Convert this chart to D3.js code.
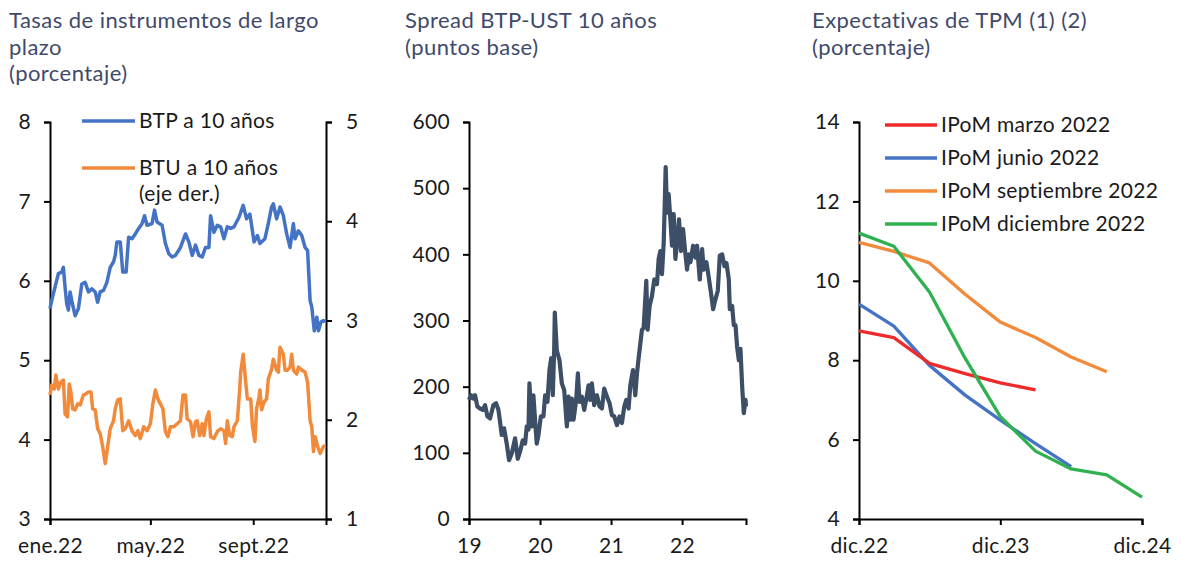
<!DOCTYPE html>
<html><head><meta charset="utf-8">
<script src="https://cdn.jsdelivr.net/npm/d3@7"></script>
<style>
html,body{margin:0;padding:0;background:#fff;}
svg{display:block;font-family:Lato,"Open Sans",sans-serif;}
</style></head>
<body><svg id="c" width="1181" height="561"></svg>
<script>
// ---------- Panel 1: Tasas de instrumentos de largo plazo ----------
const btpDates = ["2022-01-01","2022-01-03","2022-01-07","2022-01-11","2022-01-15","2022-01-17","2022-01-19","2022-01-21","2022-01-23","2022-01-25","2022-01-27","2022-01-31","2022-02-04","2022-02-08","2022-02-12","2022-02-16","2022-02-20","2022-02-24","2022-02-27","2022-03-02","2022-03-06","2022-03-10","2022-03-14","2022-03-18","2022-03-20","2022-03-22","2022-03-26","2022-03-29","2022-04-02","2022-04-05","2022-04-09","2022-04-13","2022-04-17","2022-04-21","2022-04-24","2022-04-27","2022-05-03","2022-05-06","2022-05-09","2022-05-15","2022-05-19","2022-05-23","2022-05-27","2022-05-31","2022-06-06","2022-06-12","2022-06-16","2022-06-20","2022-06-24","2022-06-28","2022-07-02","2022-07-06","2022-07-10","2022-07-12","2022-07-16","2022-07-20","2022-07-24","2022-07-28","2022-08-01","2022-08-05","2022-08-09","2022-08-15","2022-08-20","2022-08-24","2022-08-28","2022-09-02","2022-09-06","2022-09-09","2022-09-15","2022-09-19","2022-09-23","2022-09-25","2022-09-29","2022-10-03","2022-10-07","2022-10-11","2022-10-15","2022-10-19","2022-10-21","2022-10-25","2022-10-29","2022-11-02","2022-11-05","2022-11-08","2022-11-10","2022-11-13","2022-11-16","2022-11-18","2022-11-21","2022-11-24","2022-11-26"];
const btpValues = [5.65,5.75,5.92,6.09,6.11,6.17,5.92,5.71,5.63,5.86,5.75,5.56,5.65,5.96,5.98,5.86,5.90,5.86,5.73,5.86,5.88,5.98,6.17,6.24,6.32,6.49,6.49,6.11,6.11,6.55,6.53,6.59,6.66,6.72,6.82,6.70,6.72,6.89,6.74,6.70,6.47,6.34,6.30,6.32,6.42,6.59,6.49,6.32,6.45,6.32,6.30,6.42,6.42,6.82,6.61,6.70,6.68,6.53,6.68,6.66,6.68,6.80,6.95,6.78,6.84,6.49,6.57,6.47,6.53,6.72,6.93,6.97,6.78,6.93,6.82,6.59,6.42,6.72,6.53,6.63,6.57,6.42,6.38,5.75,5.67,5.37,5.54,5.37,5.48,5.50,5.48];
const btuDates = ["2022-01-01","2022-01-03","2022-01-06","2022-01-08","2022-01-11","2022-01-14","2022-01-17","2022-01-19","2022-01-22","2022-01-24","2022-01-26","2022-01-28","2022-01-31","2022-02-03","2022-02-06","2022-02-10","2022-02-13","2022-02-16","2022-02-19","2022-02-21","2022-02-24","2022-02-27","2022-03-02","2022-03-05","2022-03-08","2022-03-11","2022-03-14","2022-03-18","2022-03-20","2022-03-23","2022-03-26","2022-03-29","2022-04-01","2022-04-05","2022-04-09","2022-04-13","2022-04-16","2022-04-19","2022-04-23","2022-04-27","2022-05-01","2022-05-04","2022-05-07","2022-05-10","2022-05-13","2022-05-16","2022-05-19","2022-05-22","2022-05-25","2022-05-29","2022-06-02","2022-06-06","2022-06-09","2022-06-12","2022-06-14","2022-06-18","2022-06-21","2022-06-24","2022-06-26","2022-06-29","2022-07-02","2022-07-04","2022-07-07","2022-07-10","2022-07-12","2022-07-16","2022-07-20","2022-07-24","2022-07-28","2022-07-30","2022-08-01","2022-08-04","2022-08-07","2022-08-09","2022-08-13","2022-08-16","2022-08-17","2022-08-20","2022-08-23","2022-08-25","2022-08-29","2022-08-31","2022-09-03","2022-09-05","2022-09-08","2022-09-09","2022-09-11","2022-09-14","2022-09-17","2022-09-19","2022-09-23","2022-09-25","2022-09-29","2022-10-01","2022-10-03","2022-10-07","2022-10-09","2022-10-12","2022-10-15","2022-10-17","2022-10-19","2022-10-23","2022-10-25","2022-10-29","2022-11-02","2022-11-05","2022-11-08","2022-11-10","2022-11-12","2022-11-14","2022-11-17","2022-11-20","2022-11-24","2022-11-26"];
const btuValues = [2.25,2.35,2.31,2.45,2.31,2.38,2.40,2.06,2.03,2.36,2.28,2.11,2.10,2.16,2.15,2.25,2.26,2.28,2.28,2.11,2.10,1.91,1.86,1.73,1.56,1.73,1.91,1.99,2.11,2.20,2.21,1.89,1.91,1.99,1.89,1.84,1.89,1.81,1.93,1.89,1.96,2.16,2.30,2.21,2.16,2.11,1.88,1.83,1.93,1.93,1.96,1.99,2.25,2.25,2.01,1.98,1.83,1.98,1.99,1.84,1.96,1.84,2.01,2.08,1.83,1.81,1.88,1.91,1.89,1.76,1.99,1.84,1.83,1.93,1.99,2.33,2.48,2.66,2.38,2.21,2.21,1.94,1.78,2.11,2.23,2.30,2.10,2.18,2.21,2.41,2.51,2.61,2.50,2.48,2.73,2.66,2.50,2.50,2.53,2.66,2.50,2.46,2.53,2.50,2.48,2.38,1.99,1.93,1.68,1.83,1.73,1.66,1.73,1.74];
const p1LeftTicks = [3,4,5,6,7,8];
const p1RightTicks = [1,2,3,4,5];
const p1XTicks = ["2022-01-01","2022-05-01","2022-09-01"];
const p1XLabels = ["ene.22","may.22","sept.22"];
const p1Title = ["Tasas de instrumentos de largo","plazo","(porcentaje)"];
const p1Legend = [["BTP a 10 años"],["BTU a 10 años","(eje der.)"]];

// ---------- Panel 2: Spread BTP-UST 10 años ----------
const spreadYears = [2019.000,2019.028,2019.061,2019.085,2019.118,2019.155,2019.193,2019.226,2019.259,2019.296,2019.343,2019.381,2019.414,2019.437,2019.461,2019.494,2019.531,2019.564,2019.602,2019.649,2019.686,2019.719,2019.757,2019.790,2019.813,2019.837,2019.851,2019.884,2019.907,2019.936,2019.954,2019.978,2020.011,2020.048,2020.072,2020.105,2020.133,2020.157,2020.180,2020.199,2020.208,2020.236,2020.274,2020.307,2020.340,2020.378,2020.401,2020.425,2020.448,2020.472,2020.509,2020.533,2020.556,2020.589,2020.622,2020.660,2020.683,2020.707,2020.730,2020.763,2020.801,2020.838,2020.871,2020.904,2020.942,2020.979,2021.012,2021.045,2021.083,2021.120,2021.153,2021.186,2021.214,2021.247,2021.271,2021.309,2021.341,2021.365,2021.388,2021.412,2021.435,2021.459,2021.496,2021.515,2021.543,2021.576,2021.609,2021.647,2021.670,2021.694,2021.717,2021.741,2021.755,2021.769,2021.788,2021.811,2021.835,2021.858,2021.882,2021.906,2021.938,2021.957,2021.985,2022.014,2022.047,2022.070,2022.094,2022.117,2022.155,2022.188,2022.211,2022.249,2022.282,2022.305,2022.343,2022.376,2022.409,2022.437,2022.470,2022.503,2022.531,2022.564,2022.597,2022.625,2022.658,2022.672,2022.705,2022.728,2022.752,2022.775,2022.799,2022.822,2022.846,2022.869,2022.893,2022.900];
const spreadValues = [180,187,182,187,170,167,165,172,155,152,172,175,165,147,127,137,114,89,99,122,91,102,119,114,140,135,205,140,187,140,114,127,155,155,187,177,225,243,187,255,312,255,240,205,195,140,185,150,182,150,180,220,177,185,165,187,202,180,205,172,187,170,167,197,185,175,157,155,142,155,145,170,180,167,202,225,187,220,243,265,286,289,360,286,322,337,362,355,393,405,370,417,472,532,463,491,453,413,461,393,428,453,405,438,400,377,400,388,413,395,413,362,408,377,388,365,340,317,332,345,398,400,382,387,362,317,322,293,293,260,240,257,200,160,180,170];
const p2YTicks = [0,100,200,300,400,500,600];
const p2XTicks = [2019,2020,2021,2022];
const p2XLabels = ["19","20","21","22"];
const p2Title = ["Spread BTP-UST 10 años","(puntos base)"];

// ---------- Panel 3: Expectativas de TPM ----------
const tpmDates = ["2022-12-01","2023-03-01","2023-06-01","2023-09-01","2023-12-01","2024-03-01","2024-06-01","2024-09-01","2024-12-01"];
const ipomMarzo = [8.74,8.57,7.92,7.66,7.43,7.25];
const ipomJunio = [9.41,8.86,7.87,7.12,6.49,5.90,5.32];
const ipomSeptiembre = [10.97,10.74,10.45,9.66,8.96,8.57,8.08,7.71];
const ipomDiciembre = [11.20,10.87,9.72,8.05,6.58,5.71,5.26,5.11,4.55];
const p3SeriesNames = ["IPoM marzo 2022","IPoM junio 2022","IPoM septiembre 2022","IPoM diciembre 2022"];
const p3YTicks = [4,6,8,10,12,14];
const p3XTicks = ["2022-12-01","2023-12-01","2024-12-01"];
const p3XLabels = ["dic.22","dic.23","dic.24"];
const p3Title = ["Expectativas de TPM (1) (2)","(porcentaje)"];

// ---------- styles ----------
const TITLE_COLOR = "#3f4a6b";
const TEXT_COLOR = "#1a1a1a";
const BLUE = "#4472c4", ORANGE = "#f28a3c", RED = "#ee2b2b", GREEN = "#2fb14f", SLATE = "#3d4f66";
const FONT = "Lato";
const FS = 21;

const parse = d3.timeParse("%Y-%m-%d");
const svg = d3.select("#c");

function title(lines, x, y0){
  const t = svg.append("text").attr("fill", TITLE_COLOR).attr("font-family", FONT).attr("font-size", 22)
    .attr("font-weight", 400).attr("letter-spacing", 0.45);
  lines.forEach((l,i)=> t.append("tspan").attr("x", x).attr("y", y0 + i*26.5).text(l));
}
function styleAxis(g){
  g.selectAll("path.domain").attr("stroke","#000").attr("stroke-width",2);
  g.selectAll(".tick line").attr("stroke","#000").attr("stroke-width",2);
  g.selectAll(".tick text").attr("fill",TEXT_COLOR).attr("font-size",FS).attr("font-family",FONT).attr("letter-spacing",0.3);
}

// ===== Panel 1 =====
{
  const x = d3.scaleTime().domain([parse("2022-01-01"), parse("2022-11-27")]).range([50, 326]);
  const yL = d3.scaleLinear().domain([3,8]).range([519,122]);
  const yR = d3.scaleLinear().domain([1,5]).range([519,122]);
  title(p1Title, 9, 28);

  const gx = svg.append("g").attr("transform","translate(0,519)")
    .call(d3.axisBottom(x).tickValues(p1XTicks.map(parse)).tickFormat((d,i)=>p1XLabels[i]).tickSizeOuter(0).tickSize(6).tickPadding(13));
  styleAxis(gx);
  const gl = svg.append("g").attr("transform","translate(50,0)")
    .call(d3.axisLeft(yL).tickValues(p1LeftTicks).tickFormat(d3.format("d")).tickSizeOuter(0).tickSize(6).tickPadding(13));
  styleAxis(gl);
  const gr = svg.append("g").attr("transform","translate(326,0)")
    .call(d3.axisRight(yR).tickValues(p1RightTicks).tickFormat(d3.format("d")).tickSizeOuter(0).tickSize(6).tickPadding(14));
  styleAxis(gr);

  const btp = btpDates.map((d,i)=>({x:parse(d), y:btpValues[i]}));
  const btu = btuDates.map((d,i)=>({x:parse(d), y:btuValues[i]}));
  svg.append("path").datum(btu).attr("fill","none").attr("stroke",ORANGE).attr("stroke-width",3.5).attr("stroke-linejoin","round")
    .attr("d", d3.line().x(d=>x(d.x)).y(d=>yR(d.y)));
  svg.append("path").datum(btp).attr("fill","none").attr("stroke",BLUE).attr("stroke-width",3.5).attr("stroke-linejoin","round")
    .attr("d", d3.line().x(d=>x(d.x)).y(d=>yL(d.y)));

  const legY = [121, 168];
  const legC = [BLUE, ORANGE];
  p1Legend.forEach((lines,i)=>{
    svg.append("line").attr("x1",82).attr("x2",135).attr("y1",legY[i]).attr("y2",legY[i]).attr("stroke",legC[i]).attr("stroke-width",3.5);
    const t = svg.append("text").attr("fill",TEXT_COLOR).attr("font-size",FS).attr("font-family",FONT).attr("letter-spacing",0.3);
    lines.forEach((l,j)=> t.append("tspan").attr("x",139).attr("y",legY[i]+7+j*26).text(l));
  });
}

// ===== Panel 2 =====
{
  const x = d3.scaleLinear().domain([2019, 2022.9]).range([469, 746]);
  const y = d3.scaleLinear().domain([0,600]).range([519,122]);
  title(p2Title, 405, 28);
  const gx = svg.append("g").attr("transform","translate(0,519)")
    .call(d3.axisBottom(x).tickValues(p2XTicks).tickFormat((d,i)=>p2XLabels[i]).tickSizeOuter(0).tickSize(6).tickPadding(13));
  styleAxis(gx);
  const gy = svg.append("g").attr("transform","translate(469,0)")
    .call(d3.axisLeft(y).tickValues(p2YTicks).tickFormat(d3.format("d")).tickSizeOuter(0).tickSize(6).tickPadding(13));
  styleAxis(gy);
  const data = spreadYears.map((d,i)=>({x:d, y:spreadValues[i]}));
  svg.append("path").datum(data).attr("fill","none").attr("stroke",SLATE).attr("stroke-width",4.2).attr("stroke-linejoin","round")
    .attr("d", d3.line().x(d=>x(d.x)).y(d=>y(d.y)));
}

// ===== Panel 3 =====
{
  const x = d3.scaleTime().domain([parse("2022-12-01"), parse("2024-12-01")]).range([859, 1142]);
  const y = d3.scaleLinear().domain([4,14]).range([519,122]);
  title(p3Title, 812, 28);
  const gx = svg.append("g").attr("transform","translate(0,519)")
    .call(d3.axisBottom(x).tickValues(p3XTicks.map(parse)).tickFormat((d,i)=>p3XLabels[i]).tickSizeOuter(0).tickSize(6).tickPadding(13));
  styleAxis(gx);
  const gy = svg.append("g").attr("transform","translate(859,0)")
    .call(d3.axisLeft(y).tickValues(p3YTicks).tickFormat(d3.format("d")).tickSizeOuter(0).tickSize(6).tickPadding(13));
  styleAxis(gy);
  const series = [ipomMarzo, ipomJunio, ipomSeptiembre, ipomDiciembre];
  const colors = [RED, BLUE, ORANGE, GREEN];
  const line = d3.line().x(d=>x(d.x)).y(d=>y(d.y));
  [2,1,0,3].forEach(k=>{
    const data = series[k].map((v,i)=>({x:parse(tpmDates[i]), y:v}));
    svg.append("path").datum(data).attr("fill","none").attr("stroke",colors[k]).attr("stroke-width",3.3).attr("stroke-linejoin","round")
      .attr("d", line);
  });
  const legY = [125, 158, 191, 224];
  p3SeriesNames.forEach((n,i)=>{
    svg.append("line").attr("x1",885).attr("x2",937).attr("y1",legY[i]).attr("y2",legY[i]).attr("stroke",colors[i]).attr("stroke-width",3.5);
    svg.append("text").attr("x",941).attr("y",legY[i]+7).attr("fill",TEXT_COLOR).attr("font-size",FS).attr("font-family",FONT)
      .attr("letter-spacing",0.3).text(n);
  });
}
</script></body></html>
